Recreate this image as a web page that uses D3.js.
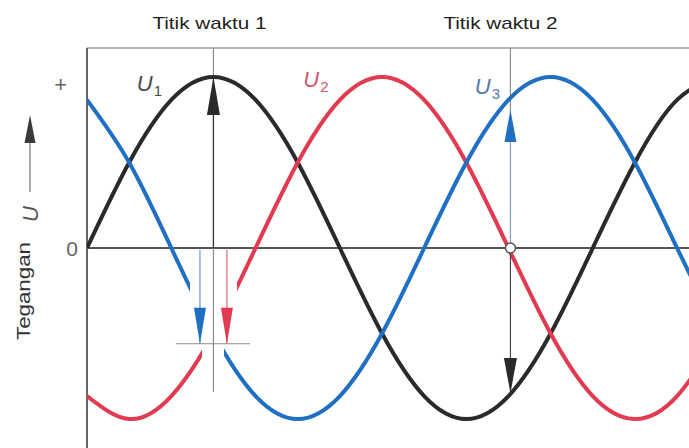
<!DOCTYPE html>
<html><head><meta charset="utf-8">
<script src="https://cdn.jsdelivr.net/npm/d3@7/dist/d3.min.js"></script>
<style>body{margin:0;background:#fff}svg{display:block;font-family:"Liberation Sans",Arial,sans-serif}</style>
</head><body><svg id="c" width="689" height="448"></svg>
<script>
// phase angle (degrees) sample positions
const angles = [0,30,60,90,120,150,180,210,240,270,300,330,360,390,420,450];
// read voltages (relative to peak) at those angles
const u1 = [0,0.5,0.866,1,0.866,0.5,0,-0.5,-0.866,-1,-0.866,-0.5,0,0.5,0.866,1];
const u2 = [-0.866,-1,-0.866,-0.5,0,0.5,0.866,1,0.866,0.5,0,-0.5,-0.866,-1,-0.866,-0.5];
const u3 = [0.866,0.5,0,-0.5,-0.866,-1,-0.866,-0.5,0,0.5,0.866,1,0.866,0.5,0,-0.5];
const seriesNames = ["U1","U2","U3"];
const seriesSub = ["1","2","3"];
// gaps in the drawn curves near time point 1 (degrees)
const gapU2 = [81.9,106.8];
const gapU3 = [73.3,97.5];
// time points (degrees) and labels
const timePoints = [90,301.4];
const timeLabels = ["Titik waktu 1","Titik waktu 2"];
// arrows at time point 1
const t1Arrows = [{s:"U3",a:80.4,v:-0.56},{s:"U2",a:99.6,v:-0.56}];
const t1Black = 1.0;
// arrows at time point 2
const t2Blue = 0.807, t2Black = -0.848;
const yTickLabels = ["+","0"];
const yTickValues = [1,0];
const axisTitle = "Tegangan";
const axisSymbol = "U";

const colors = {U1:"#2a2a2a",U2:"#e23a50",U3:"#1f70c2"};
const labelColors = {U1:"#4a4a4a",U2:"#d0566a",U3:"#5679ac"};

const svg = d3.select("#c");
const x = d3.scaleLinear().domain([0,428.5]).range([87,689]);
const y = d3.scaleLinear().domain([-1,1]).range([419,77]);
const L = 87, R = 689, T = 48, B = 448;

const defs = svg.append("defs");
defs.append("clipPath").attr("id","plot").append("rect").attr("x",L).attr("y",T).attr("width",R-L).attr("height",B-T);
function gapClip(id,gap){
  const cp = defs.append("clipPath").attr("id",id);
  cp.append("rect").attr("x",L).attr("y",T).attr("width",x(gap[0])-L).attr("height",B-T);
  cp.append("rect").attr("x",x(gap[1])).attr("y",T).attr("width",R-x(gap[1])).attr("height",B-T);
}
gapClip("gap2",gapU2); gapClip("gap3",gapU3);

// frame lines
svg.append("line").attr("x1",L).attr("x2",R).attr("y1",T).attr("y2",T).attr("stroke","#9a9a9a").attr("stroke-width",1.5);
svg.append("line").attr("x1",L).attr("x2",R).attr("y1",y(0)).attr("y2",y(0)).attr("stroke","#555").attr("stroke-width",2);

// y axis with d3 axis
const yAxis = d3.axisLeft(y).tickValues(yTickValues).tickSize(0).tickPadding(10)
  .tickFormat((d,i)=>yTickLabels[i]);
const ga = svg.append("g").attr("transform",`translate(${L},0)`).call(yAxis);
ga.attr("font-size",null).attr("font-family",null);
ga.select(".domain").remove();
ga.selectAll(".tick text")
  .style("fill","#666")
  .style("font-family","Liberation Sans, Arial, sans-serif")
  .style("font-size",d=>d===1?"22px":"21px")
  .attr("x",d=>d===1?-20:-9)
  .attr("dy",d=>d===1?"0.68em":"0.36em");
svg.append("line").attr("x1",L).attr("x2",L).attr("y1",T).attr("y2",B).attr("stroke","#666").attr("stroke-width",2);

// time point vertical lines
svg.append("line").attr("x1",x(timePoints[0])).attr("x2",x(timePoints[0])).attr("y1",T).attr("y2",y(-0.84)).attr("stroke","#8a8a8a").attr("stroke-width",1.2);
svg.append("line").attr("x1",x(timePoints[1])).attr("x2",x(timePoints[1])).attr("y1",T).attr("y2",y(t2Blue)).attr("stroke","#8a8a8a").attr("stroke-width",1.2);
// horizontal reference at time point 1
svg.append("line").attr("x1",x(63.3)).attr("x2",x(116)).attr("y1",y(-0.56)).attr("y2",y(-0.56)).attr("stroke","#8a8a8a").attr("stroke-width",1.2);

// curves
const line = d3.line().x((d,i)=>x(angles[i])).y(d=>y(d)).curve(d3.curveNatural);
const gc = svg.append("g").attr("clip-path","url(#plot)");
gc.append("path").attr("d",line(u1)).attr("fill","none").attr("stroke",colors.U1).attr("stroke-width",4);
gc.append("g").attr("clip-path","url(#gap2)").append("path").attr("d",line(u2)).attr("fill","none").attr("stroke",colors.U2).attr("stroke-width",4);
gc.append("g").attr("clip-path","url(#gap3)").append("path").attr("d",line(u3)).attr("fill","none").attr("stroke",colors.U3).attr("stroke-width",4);

// arrow helper
function arrow(px,y0,y1,head,shaft,len=35,hw=6.5,sw=1.2){
  svg.append("line").attr("x1",px).attr("x2",px).attr("y1",y0).attr("y2",y1).attr("stroke",shaft).attr("stroke-width",sw);
  const dir = y1<y0?1:-1;
  svg.append("path").attr("d",`M${px},${y1} L${px-hw},${y1+dir*len} L${px+hw},${y1+dir*len} Z`).attr("fill",head);
}
arrow(x(timePoints[0]),y(0),y(t1Black),"#2a2a2a","#333",38);
t1Arrows.forEach(a=>{
  arrow(x(a.a),y(0)+2,y(a.v),colors[a.s],a.s==="U2"?"#dc6a78":"#6a93cf",36,6);
});
arrow(x(timePoints[1]),y(0),y(t2Blue),colors.U3,"#7b9ccc",32,6);
arrow(x(timePoints[1]),y(0),y(t2Black),"#2a2a2a","#444",35,6.5);
svg.append("circle").attr("cx",x(timePoints[1])).attr("cy",y(0)).attr("r",5).attr("fill","#fff").attr("stroke","#555").attr("stroke-width",1.5);

// time labels
svg.selectAll(".tl").data(timeLabels).join("text").attr("class","tl")
  .attr("x",(d,i)=>x(timePoints[i])-(i===0?4:10)).attr("y",29)
  .attr("text-anchor","middle").attr("font-size",17).attr("fill","#222")
  .attr("textLength",114).attr("lengthAdjust","spacingAndGlyphs").text(d=>d);

// series labels
const labelPos = [{a:35.5,v:0.92},{a:154,v:0.94},{a:276,v:0.9}];
seriesNames.forEach((s,i)=>{
  const t = svg.append("text").attr("x",x(labelPos[i].a)).attr("y",y(labelPos[i].v))
    .attr("font-size",22).attr("font-style","italic").attr("fill",labelColors[s]);
  t.append("tspan").text("U");
  t.append("tspan").attr("font-size",15).attr("font-style","normal").attr("dx",1).attr("dy",5).text(seriesSub[i]);
});

// axis title
svg.append("text").attr("transform","translate(30,291) rotate(-90)").attr("text-anchor","middle")
  .attr("font-size",18).attr("fill","#333").attr("textLength",98).attr("lengthAdjust","spacingAndGlyphs").text(axisTitle);
svg.append("text").attr("transform","translate(38,214) rotate(-90)").attr("text-anchor","middle")
  .attr("font-size",22).attr("font-style","italic").attr("fill","#555").text(axisSymbol);
svg.append("line").attr("x1",30).attr("x2",30).attr("y1",192).attr("y2",140).attr("stroke","#777").attr("stroke-width",1.2);
svg.append("path").attr("d","M30,115 L24.5,143 L35.5,143 Z").attr("fill","#3a3a3a");
</script></body></html>
